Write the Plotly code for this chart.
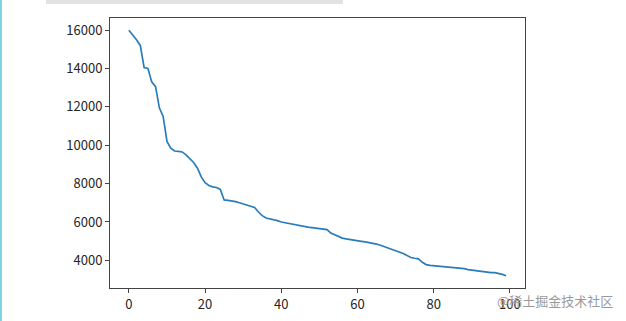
import plotly.graph_objects as go

x_vals = list(range(100))
y_vals = [
    15990, 15750, 15500, 15200, 14050, 14000, 13300, 13050, 11950, 11500,
    10200, 9850, 9700, 9680, 9650, 9500, 9300, 9100, 8800, 8350,
    8050, 7900, 7830, 7800, 7700, 7150, 7130, 7100, 7060, 7000,
    6950, 6900, 6830, 6760, 6520, 6330, 6210, 6170, 6140, 6070,
    6000, 5960, 5910, 5870, 5830, 5790, 5750, 5730, 5710, 5690,
    5660, 5630, 5600, 5420, 5330, 5220, 5160, 5120, 5080, 5050,
    5030, 4990, 4960, 4930, 4900, 4850, 4790, 4720, 4650, 4560,
    4500, 4430, 4360, 4250, 4150, 4110, 4080, 3900, 3780, 3740,
    3720, 3700, 3680, 3660, 3640, 3630, 3610, 3600, 3570, 3520,
    3490, 3470, 3430, 3390, 3370, 3360, 3360, 3330, 3270, 3200,
]
x_ticks = [0, 20, 40, 60, 80, 100]
y_ticks = [4000, 6000, 8000, 10000, 12000, 14000, 16000]
watermark = "@稀土掘金技术社区"

W, H = 626, 321
L, R, T, B = 110, 525, 18, 288

def px_x(p):
    return (p - L) / (R - L)

def px_y(p):
    return (B - p) / (B - T)

xmin, xmax = min(x_vals), max(x_vals)
ymin, ymax = min(y_vals), max(y_vals)
xpad = 0.05 * (xmax - xmin)
ypad = 0.05 * (ymax - ymin)

fig = go.Figure()
fig.add_trace(go.Scatter(
    x=x_vals, y=y_vals, mode="lines",
    line=dict(color="#2a7db8", width=1.7),
    hoverinfo="skip", showlegend=False,
))

font = dict(family="Noto Sans CJK SC, DejaVu Sans, sans-serif", size=13, color="#262626")
axis_common = dict(
    showgrid=False, zeroline=False, showline=True, mirror=True,
    linecolor="#444444", linewidth=1, ticks="outside", ticklen=4,
    tickcolor="#444444", tickwidth=1, tickfont=font, automargin=False,
)
fig.update_xaxes(range=[xmin - xpad, xmax + xpad], tickvals=x_ticks,
                 ticktext=[str(v) for v in x_ticks], **axis_common)
fig.update_yaxes(range=[ymin - ypad, ymax + ypad], tickvals=y_ticks,
                 ticktext=[str(v) for v in y_ticks], **axis_common)

fig.update_layout(
    width=W, height=H,
    margin=dict(l=L, r=W - R, t=T, b=H - B, pad=0),
    paper_bgcolor="white", plot_bgcolor="white",
    font=font,
    shapes=[
        dict(type="line", xref="paper", yref="paper",
             x0=px_x(1), x1=px_x(1), y0=px_y(0), y1=px_y(H),
             line=dict(color="#7fd3e3", width=2)),
        dict(type="rect", xref="paper", yref="paper",
             x0=px_x(46), x1=px_x(343), y0=px_y(4), y1=px_y(-2),
             line=dict(width=0), fillcolor="#e2e2e2"),
    ],
    annotations=[
        dict(text=watermark, xref="paper", yref="paper",
             x=px_x(615), y=px_y(300), xanchor="right", yanchor="middle",
             showarrow=False,
             font=dict(family="Noto Sans CJK SC, sans-serif", size=13, color="#9a9a9a")),
    ],
)

fig.write_html("out.html")
